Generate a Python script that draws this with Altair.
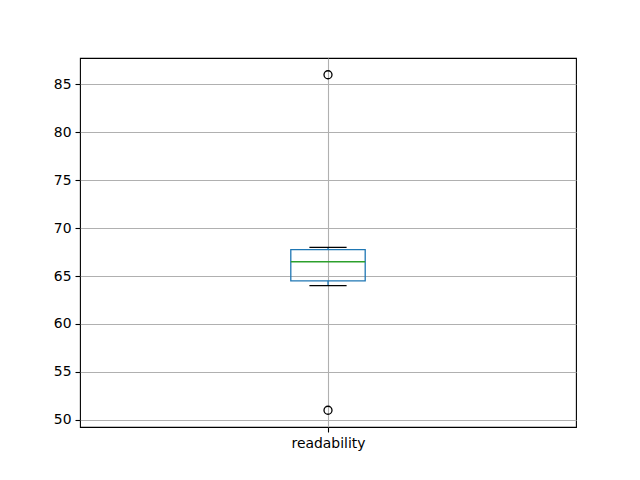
import altair as alt
import pandas as pd

# ---- data ----
categories = ["readability"]
positions = [1]
q1 = [64.5]
median = [66.5]
q3 = [67.75]
whisker_low = [64.0]
whisker_high = [68.0]
outliers = [86.0, 51.0]
outlier_cat = ["readability", "readability"]
y_ticks = [50, 55, 60, 65, 70, 75, 80, 85]

BOX_WIDTH = 0.15
CAP_WIDTH = BOX_WIDTH / 2

stats = pd.DataFrame({
    "cat": categories,
    "pos": positions,
    "q1": q1,
    "median": median,
    "q3": q3,
    "lo": whisker_low,
    "hi": whisker_high,
})
stats["bx0"] = stats["pos"] - BOX_WIDTH / 2
stats["bx1"] = stats["pos"] + BOX_WIDTH / 2
stats["cx0"] = stats["pos"] - CAP_WIDTH / 2
stats["cx1"] = stats["pos"] + CAP_WIDTH / 2

pos_map = dict(zip(categories, positions))
fl = pd.DataFrame({"cat": outlier_cat, "value": outliers})
fl["pos"] = fl["cat"].map(pos_map)

font = "DejaVu Sans"
x_scale = alt.Scale(domain=[0.5, 1.5], nice=False, zero=False)
y_scale = alt.Scale(domain=[49.25, 87.75], nice=False, zero=False)

x_axis = alt.Axis(
    values=positions, labelExpr="'readability'", title=None, grid=True,
    gridColor="#b0b0b0", gridWidth=1.1, domain=False, tickColor="black",
    tickSize=5, tickWidth=1.1, labelFont=font, labelFontSize=13.9,
    labelColor="black", labelPadding=4, labelAngle=0,
)
y_axis = alt.Axis(
    values=y_ticks, title=None, grid=True, gridColor="#b0b0b0", gridWidth=1.1,
    domain=False, tickColor="black", tickSize=5, tickWidth=1.1,
    labelFont=font, labelFontSize=13.9, labelColor="black", labelPadding=4,
)

base = alt.Chart(stats)

box = base.mark_rect(fill=None, fillOpacity=0, stroke="#1f77b4", strokeWidth=1.3).encode(
    x=alt.X("bx0:Q", scale=x_scale, axis=x_axis),
    x2="bx1:Q",
    y=alt.Y("q1:Q", scale=y_scale, axis=y_axis),
    y2="q3:Q",
)
med = base.mark_rule(color="#2ca02c", strokeWidth=1.5).encode(
    x="bx0:Q", x2="bx1:Q", y="median:Q"
)
wlo = base.mark_rule(color="#1f77b4", strokeWidth=1.3).encode(
    x="pos:Q", y="lo:Q", y2="q1:Q"
)
whi = base.mark_rule(color="#1f77b4", strokeWidth=1.3).encode(
    x="pos:Q", y="q3:Q", y2="hi:Q"
)
cap_lo = base.mark_rule(color="black", strokeWidth=1.3).encode(
    x="cx0:Q", x2="cx1:Q", y="lo:Q"
)
cap_hi = base.mark_rule(color="black", strokeWidth=1.3).encode(
    x="cx0:Q", x2="cx1:Q", y="hi:Q"
)
fliers = alt.Chart(fl).mark_point(
    shape="circle", filled=False, stroke="black", strokeWidth=1.3, size=64, opacity=1
).encode(x="pos:Q", y="value:Q")

chart = alt.layer(box, med, wlo, whi, cap_lo, cap_hi, fliers).properties(
    width=496, height=369,
    autosize=alt.AutoSizeParams(type="none"),
    padding={"left": 72, "top": 50, "right": 56, "bottom": 45},
    background="white",
).configure_view(stroke="black", strokeWidth=1.1, strokeOpacity=1)

chart.save("out.html", embed_options={"renderer": "svg", "actions": False})
